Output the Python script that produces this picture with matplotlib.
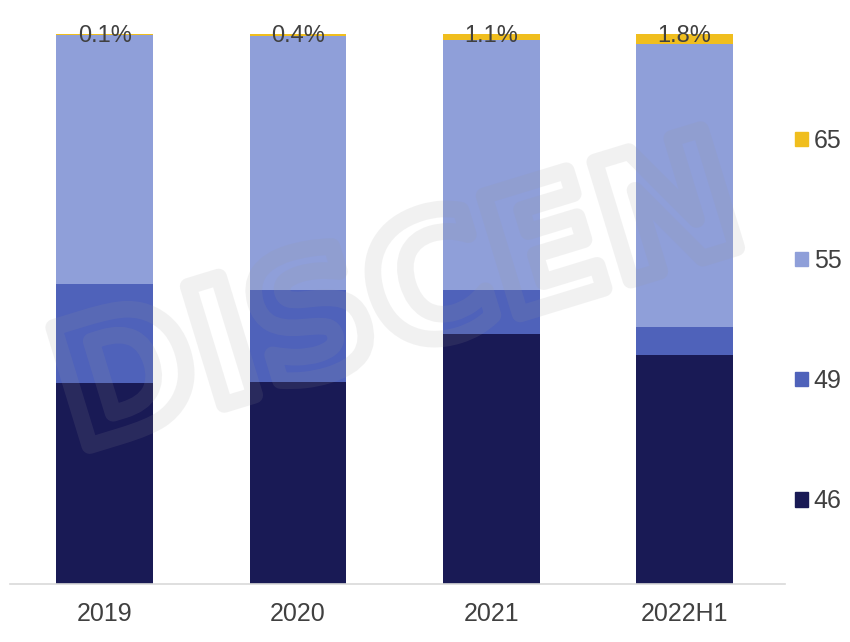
import matplotlib
matplotlib.use("Agg")
import matplotlib.pyplot as plt
import matplotlib.patheffects as pe
from matplotlib.patches import Patch

categories = ["2019", "2020", "2021", "2022H1"]
s46 = [36.6, 36.8, 45.4, 41.7]
s49 = [18.0, 16.6, 8.0, 5.1]
s55 = [45.3, 46.2, 45.5, 51.4]
s65 = [0.1, 0.4, 1.1, 1.8]
labels65 = ["0.1%", "0.4%", "1.1%", "1.8%"]

colors = {"46": "#191A55", "49": "#4F62BA", "55": "#8F9FD9", "65": "#F0BE1E"}

fig = plt.figure(figsize=(8.5, 6.42), dpi=100)
ax = fig.add_axes([10/850, 58/642, 775/850, 550/642])

x = list(range(len(categories)))
w = 0.5
bottom = [0]*4
for key, vals in [("46", s46), ("49", s49), ("55", s55), ("65", s65)]:
    ax.bar(x, vals, w, bottom=bottom, color=colors[key], label=key, zorder=2)
    bottom = [b + v for b, v in zip(bottom, vals)]

for xi, top, lab in zip(x, bottom, labels65):
    ax.text(xi, top - 0.3, lab, ha="center", va="center", fontsize=17,
            color="#404040", family="Liberation Sans", zorder=5)

ax.set_xlim(-0.49, 3.52)
ax.set_ylim(0, 100)
ax.set_yticks([])
ax.set_xticks(x)
ax.set_xticklabels(categories, fontsize=18, color="#404040", family="Liberation Sans")
ax.tick_params(axis="x", length=0, pad=13)
for s in ["top", "left", "right"]:
    ax.spines[s].set_visible(False)
ax.spines["bottom"].set_color("#D9D9D9")
ax.spines["bottom"].set_linewidth(1.2)

# watermark
fig.text(0.47, 0.53, "DISCEN", fontsize=122, fontweight="bold", rotation=17,
         ha="center", va="center", color="none", family="DejaVu Sans",
         path_effects=[pe.withStroke(linewidth=12, foreground=(0.6, 0.6, 0.6, 0.13))],
         zorder=10)

handles = [Patch(color=colors[k]) for k in ["65", "55", "49", "46"]]
fig.legend(handles, ["65", "55", "49", "46"], loc="center left",
           bbox_to_anchor=(795/850, 0.5), frameon=False,
           prop={"family": "Liberation Sans", "size": 18},
           labelcolor="#404040", handlelength=0.5, handleheight=0.5,
           handletextpad=0.25, labelspacing=3.85, borderpad=0, borderaxespad=0)

fig.savefig("out.png", dpi=100)
